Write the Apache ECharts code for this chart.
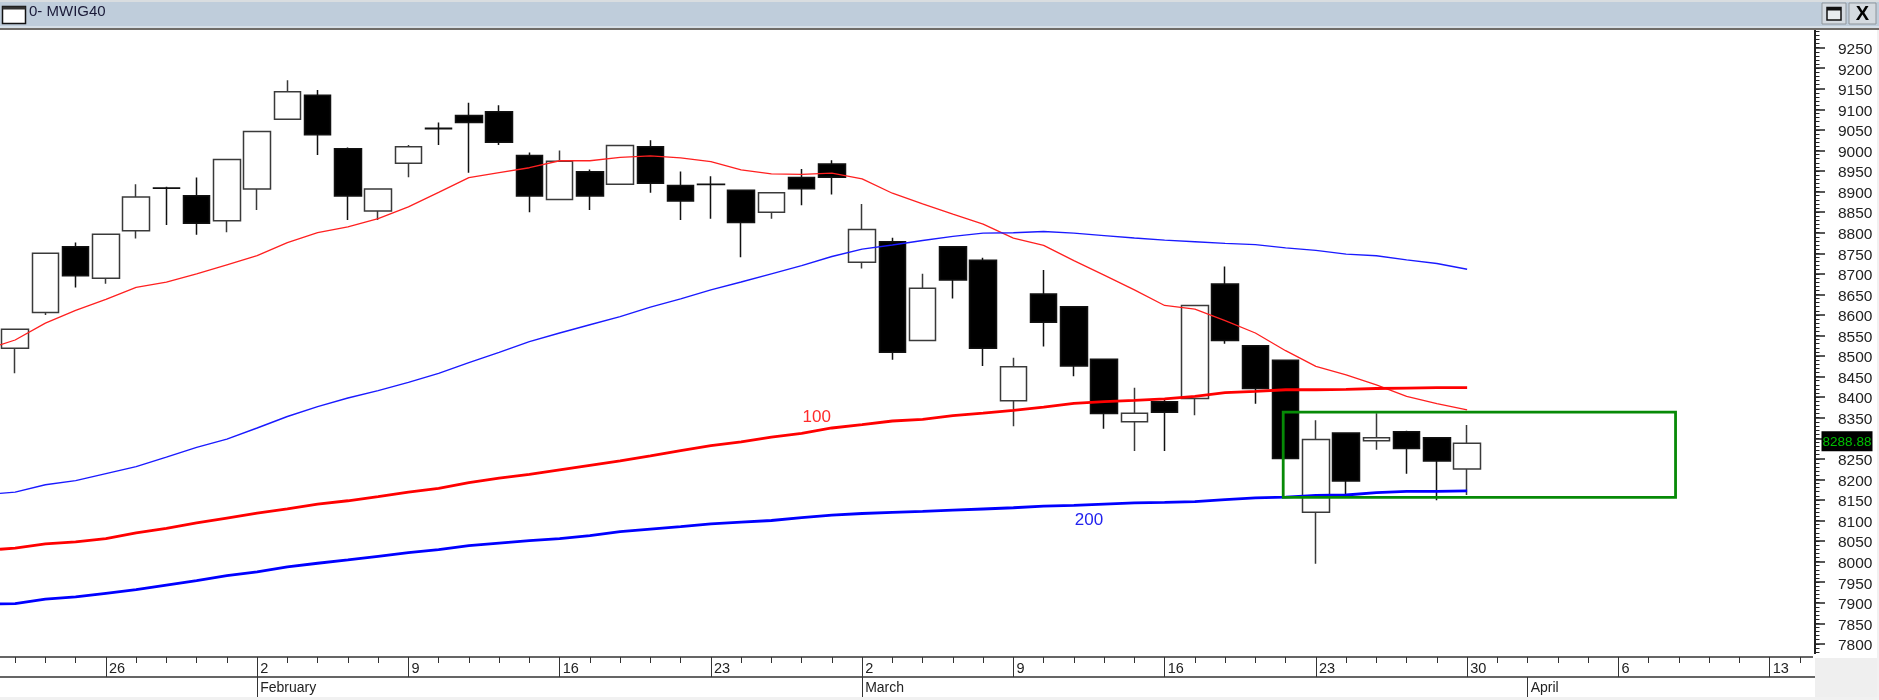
<!DOCTYPE html>
<html><head><meta charset="utf-8">
<style>html,body{margin:0;padding:0;background:#fff}#c{width:1879px;height:700px}</style>
<script src="https://cdn.jsdelivr.net/npm/echarts@6/dist/echarts.min.js"></script>
</head><body><div id="c"></div>
<script>
var title = "0- MWIG40";
var categories = ["01-21","01-22","01-23","01-26","01-27","01-28","01-29","01-30","02-02","02-03","02-04","02-05","02-06","02-09","02-10","02-11","02-12","02-13","02-16","02-17","02-18","02-19","02-20","02-23","02-24","02-25","02-26","02-27","03-02","03-03","03-04","03-05","03-06","03-09","03-10","03-11","03-12","03-13","03-16","03-17","03-18","03-19","03-20","03-23","03-24","03-25","03-26","03-27","03-30","03-31","04-01","04-02","04-03","04-06","04-07","04-08","04-09","04-10","04-13","04-14"];
var dayLabelDates = ["01-26","02-02","02-09","02-16","02-23","03-02","03-09","03-16","03-23","03-30","04-06","04-13"];
var dayLabels = ["26","2","9","16","23","2","9","16","23","30","6","13"];
var monthDates = ["02-02","03-02","04-01"];
var monthLabels = ["February","March","April"];

var opens  = [8519,8606,8766,8689,8805,8909,8890,8829,8906,9076,9134,9004,8853,8969,9054,9085,9094,8988,8881,8948,8918,9009,8915,8918,8903,8850,8934,8967,8728,8778,8538,8766,8733,8391,8651,8620,8492,8340,8389,8397,8675,8525,8490,8120,8313,8294,8316,8301,8225];
var closes = [8565,8750,8695,8796,8887,8908,8823,8978,9046,9143,9038,8889,8906,9009,9053,9068,9020,8889,8974,8889,9012,8920,8877,8917,8825,8897,8907,8935,8808,8509,8665,8685,8519,8474,8582,8476,8360,8361,8363,8623,8538,8421,8251,8297,8196,8301,8275,8245,8288];
var lows   = [8458,8600,8667,8676,8786,8819,8795,8801,8855,9076,8989,8831,8831,8935,9013,8946,9013,8850,8881,8855,8918,8897,8831,8834,8740,8834,8867,8893,8713,8491,8538,8640,8476,8329,8523,8451,8323,8269,8269,8356,8530,8384,8251,7995,8164,8272,8214,8149,8162];
var highs  = [8565,8750,8776,8796,8918,8912,8934,8978,9046,9171,9147,9007,8906,9013,9068,9116,9110,8995,9000,8954,9012,9025,8949,8937,8903,8897,8955,8976,8870,8788,8700,8766,8739,8496,8709,8620,8492,8423,8393,8623,8718,8527,8490,8344,8313,8361,8318,8301,8332];

/* moving averages: first entry is the value where each line leaves the left edge */
var maPositions = [-0.5,0,1,2,3,4,5,6,7,8,9,10,11,12,13,14,15,16,17,18,19,20,21,22,23,24,25,26,27,28,29,30,31,32,33,34,35,36,37,38,39,40,41,42,43,44,45,46,47,48];
var maRedThin  = [8527,8539,8580,8611,8638,8667,8680,8700,8722,8744,8776,8800,8814,8834,8863,8898,8934,8946,8958,8975,8975,8983,8987,8982,8973,8953,8943,8942,8945,8931,8896,8870,8845,8821,8787,8769,8732,8697,8661,8623,8614,8586,8556,8513,8475,8454,8430,8402,8384,8369];
var maBlueThin = [8166,8169,8187,8197,8214,8231,8254,8278,8298,8325,8353,8377,8398,8416,8436,8458,8484,8509,8535,8556,8576,8596,8619,8639,8661,8680,8700,8720,8742,8760,8770,8781,8791,8799,8800,8803,8799,8793,8787,8782,8778,8774,8771,8763,8757,8748,8744,8734,8725,8711];
var ma100 = [8030,8033,8043,8048,8056,8070,8081,8094,8106,8118,8128,8140,8148,8158,8169,8178,8192,8203,8212,8223,8234,8245,8257,8270,8282,8291,8303,8312,8325,8333,8342,8346,8355,8361,8368,8376,8385,8389,8392,8396,8402,8411,8414,8418,8418,8419,8421,8422,8423,8423];
var ma200 = [7897,7898,7909,7914,7923,7932,7943,7954,7966,7975,7987,7996,8004,8013,8022,8029,8039,8045,8051,8056,8063,8073,8079,8085,8092,8096,8100,8107,8113,8117,8120,8122,8125,8128,8131,8135,8137,8140,8143,8144,8146,8151,8155,8157,8161,8162,8168,8171,8171,8172];

var yTickValues = [7800,7850,7900,7950,8000,8050,8100,8150,8200,8250,8300,8350,8400,8450,8500,8550,8600,8650,8700,8750,8800,8850,8900,8950,9000,9050,9100,9150,9200,9250];
var yLabelValues = [7800,7850,7900,7950,8000,8050,8100,8150,8200,8250,8350,8400,8450,8500,8550,8600,8650,8700,8750,8800,8850,8900,8950,9000,9050,9100,9150,9200,9250];
var lastPrice = 8288.88;
var lineNotes = ["100","200"];
var lineNoteX = [26.5,35.5];
var lineNoteY = [8352,8100];
var greenBox = [41.92,54.89,8363.5,8156];

var FONT = '"Liberation Sans"';
var yMin = 7768, yMax = 9293;
var labelDrop = 5;
var minorTicks = [];
for (var v = 7770; v <= 9290; v += 10) minorTicks.push(v);
var candles = opens.map(function(o,i){return [o,closes[i],lows[i],highs[i]];});
var dayIdx = dayLabelDates.map(function(d){return categories.indexOf(d);});
var monthIdx = monthDates.map(function(d){return categories.indexOf(d);});
function pts(a){return a.map(function(y,i){return [maPositions[i],y];});}
function maSeries(name,data,color,w){
  return {name:name,type:'line',xAxisIndex:3,yAxisIndex:0,data:pts(data),showSymbol:false,smooth:false,
    lineStyle:{color:color,width:w},itemStyle:{color:color},z:4,silent:true};
}
var chart = echarts.init(document.getElementById('c'),null,{renderer:'canvas',width:1879,height:700});
var chrome = [
 {type:'rect',shape:{x:0,y:0,width:1879,height:2},style:{fill:'#d9dde0'}},
 {type:'rect',shape:{x:0,y:2,width:1879,height:24},style:{fill:'#bfcddb'}},
 {type:'rect',shape:{x:0,y:26,width:1879,height:2},style:{fill:'#d6dfe7'}},
 {type:'rect',shape:{x:0,y:28,width:1879,height:2},style:{fill:'#6f6c68'}},
 {type:'rect',shape:{x:2.5,y:6.5,width:23,height:17},style:{fill:'#fff',stroke:'#111',lineWidth:1.5}},
 {type:'rect',shape:{x:2.5,y:6.5,width:23,height:3},style:{fill:'#333'}},
 {type:'text',x:29,y:12,style:{text:title,fill:'#1a1a38',font:'15px '+FONT,verticalAlign:'middle'}},
 {type:'rect',shape:{x:1822,y:3,width:24,height:21},style:{fill:'#d4dae0',stroke:'#8f969c',lineWidth:1}},
 {type:'rect',shape:{x:1827,y:7.5,width:14,height:12.5},style:{fill:'#e8ecef',stroke:'#111',lineWidth:1.5}},
 {type:'rect',shape:{x:1827,y:7.5,width:14,height:3},style:{fill:'#111'}},
 {type:'rect',shape:{x:1849,y:3,width:27,height:21},style:{fill:'#d4dae0',stroke:'#8f969c',lineWidth:1}},
 {type:'text',x:1862.5,y:14,style:{text:'X',fill:'#000',font:'bold 20px '+FONT,align:'center',verticalAlign:'middle'}},
 {type:'rect',shape:{x:1813,y:654,width:66,height:4},style:{fill:'#fff'}},
 {type:'rect',shape:{x:1815,y:658,width:62,height:42},style:{fill:'#efefef'}},
 {type:'rect',shape:{x:0,y:697,width:1879,height:3},style:{fill:'#f1f1f1'}},
 {type:'rect',shape:{x:1877,y:30,width:2,height:670},style:{fill:'#f1f1f1'}}
];
chrome.forEach(function(e){e.z=100;e.silent=true;});
var axisLine = {show:true,onZero:false,lineStyle:{color:'#333',width:1.5}};
chart.setOption({
  animation:false,backgroundColor:'#fff',
  grid:{left:0,top:30,width:1815,height:627,containLabel:false},
  graphic:chrome,
  xAxis:[
   {type:'category',data:categories,position:'bottom',boundaryGap:true,axisLine:axisLine,
    axisTick:{show:true,interval:0,alignWithLabel:true,length:6,lineStyle:{color:'#333',width:1}},
    axisLabel:{show:true,interval:0,hideOverlap:false,align:'left',margin:4,padding:[0,0,0,3],color:'#222',fontFamily:FONT,fontSize:14.5,
      formatter:function(val,idx){var k=dayIdx.indexOf(idx);return k<0?'':dayLabels[k];}},splitLine:{show:false}},
   {type:'category',data:categories,position:'bottom',boundaryGap:true,axisLine:{show:false,onZero:false},
    axisTick:{show:true,alignWithLabel:true,length:20,lineStyle:{color:'#333',width:1},interval:function(i){return dayIdx.indexOf(i)>=0;}},
    axisLabel:{show:false},splitLine:{show:false}},
   {type:'category',data:categories,position:'bottom',offset:20,boundaryGap:true,axisLine:axisLine,
    axisTick:{show:true,alignWithLabel:true,length:20,lineStyle:{color:'#333',width:1},interval:function(i){return monthIdx.indexOf(i)>=0;}},
    axisLabel:{show:true,interval:0,hideOverlap:false,align:'left',margin:4,padding:[0,0,0,3],color:'#222',fontFamily:FONT,fontSize:14,
      formatter:function(val,idx){var k=monthIdx.indexOf(idx);return k<0?'':monthLabels[k];}},splitLine:{show:false}},
   {type:'value',min:-0.5,max:59.5,show:false,position:'bottom'}
  ],
  yAxis:[
   {type:'value',position:'right',min:yMin,max:yMax,scale:true,
    axisLine:{show:true,onZero:false,lineStyle:{color:'#222',width:2}},
    axisTick:{show:true,length:10,customValues:yTickValues,lineStyle:{color:'#222',width:1.5}},
    axisLabel:{show:false},splitLine:{show:false}},
   {type:'value',position:'right',min:yMin,max:yMax,scale:true,
    axisLine:{show:false,onZero:false},
    axisTick:{show:true,length:4.5,customValues:minorTicks,lineStyle:{color:'#222',width:1}},
    axisLabel:{show:false},splitLine:{show:false}},
   {type:'value',position:'right',min:yMin+labelDrop,max:yMax+labelDrop,scale:true,
    axisLine:{show:false,onZero:false},axisTick:{show:false},
    axisLabel:{show:true,customValues:yLabelValues,margin:23,color:'#222',fontFamily:FONT,fontSize:15.5,showMinLabel:true,showMaxLabel:true,
      formatter:function(v){return String(v);}},
    splitLine:{show:false}}
  ],
  series:[
   {type:'candlestick',xAxisIndex:0,yAxisIndex:0,data:candles,barWidth:27,silent:true,z:2,
    itemStyle:{color:'#fff',color0:'#000',borderColor:'#3a3a3a',borderColor0:'#111',borderWidth:1.5}},
   maSeries('MA thin red',maRedThin,'#ff2020',1.3),
   maSeries('MA thin blue',maBlueThin,'#1a1aff',1.4),
   maSeries('100',ma100,'#ff0000',2.8),
   maSeries('200',ma200,'#0000ff',2.8),
   {type:'custom',xAxisIndex:3,yAxisIndex:0,silent:true,z:6,clip:false,encode:{x:[0,1],y:[2,3]},
    data:[greenBox],
    renderItem:function(p,api){
      var a=api.coord([api.value(0),api.value(2)]),b=api.coord([api.value(1),api.value(3)]);
      return {type:'rect',shape:{x:a[0],y:a[1],width:b[0]-a[0],height:b[1]-a[1]},style:{fill:null,stroke:'#078a07',lineWidth:2.8}};
    }},
   {type:'custom',xAxisIndex:3,yAxisIndex:0,silent:true,z:6,clip:false,encode:{x:0,y:1},
    data:lineNotes.map(function(t,i){return [lineNoteX[i],lineNoteY[i],t];}),
    renderItem:function(p,api){
      var c=api.coord([api.value(0),api.value(1)]);
      return {type:'text',x:c[0],y:c[1],style:{text:lineNotes[p.dataIndex],fill:p.dataIndex===0?'#ff2a2a':'#2222ee',font:'17px '+FONT,align:'center',verticalAlign:'middle'}};
    }},
   {type:'custom',xAxisIndex:3,yAxisIndex:0,silent:true,z:7,clip:false,encode:{y:1},
    data:[[59.5,lastPrice]],
    renderItem:function(p,api){
      var c=api.coord([api.value(0),api.value(1)]);
      var x=c[0]+6.5,y=c[1]-11.5;
      return {type:'group',children:[
        {type:'rect',shape:{x:x,y:y,width:51,height:20},style:{fill:'#000'}},
        {type:'text',x:x+25.5,y:y+10.5,style:{text:lastPrice.toFixed(2),fill:'#00c000',font:'13.5px '+FONT,align:'center',verticalAlign:'middle'}}
      ]};
    }}
  ]
});
</script></body></html>
